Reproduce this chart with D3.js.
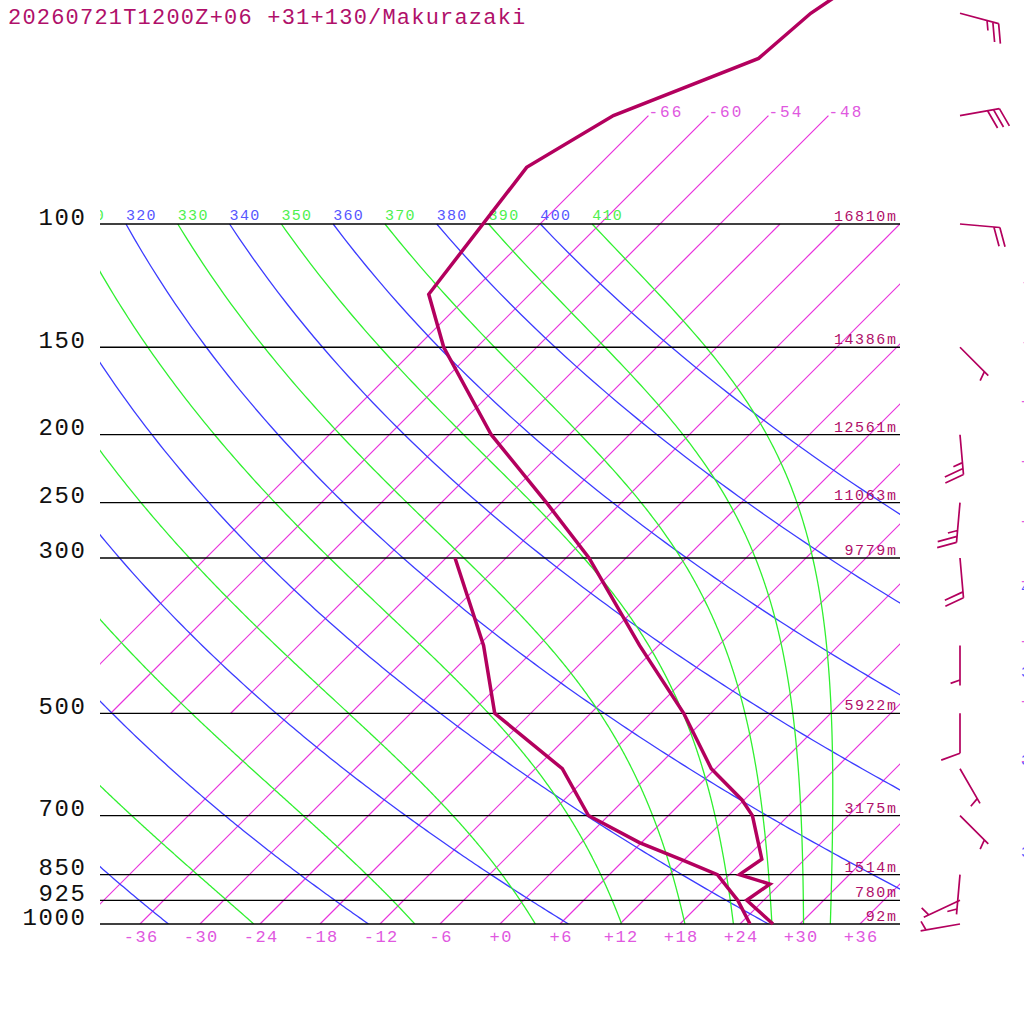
<!DOCTYPE html>
<html>
<head>
<meta charset="utf-8">
<script src="https://cdn.jsdelivr.net/npm/d3@7"></script>
<style>
  html, body { margin: 0; padding: 0; background: #ffffff; }
  svg { display: block; }
  text { font-family: "Liberation Mono", "DejaVu Sans Mono", monospace; }
</style>
</head>
<body>
<svg id="chart"></svg>
<script>
// Colours
const ISOBAR_COLOR = "#000000";
const ISOTHERM_COLOR = "#e832dc";
const ISOTHERM_LABEL = "#e058e0";
const DRY_COLOR = "#3c3cff";
const DRY_LABEL = "#5656ff";
const MOIST_COLOR = "#30f030";
const MOIST_LABEL = "#4ef04e";
const PROFILE_COLOR = "#b3005e";
const TEXT_COLOR = "#b0106a";

const width = 1024;
const height = 1024;

const title = "20260721T1200Z+06 +31+130/Makurazaki";

const isobarLevels = [1000, 925, 850, 700, 500, 300, 250, 200, 150, 100];
const heightLabels = ["92m", "780m", "1514m", "3175m", "5922m", "9779m", "11063m", "12561m", "14386m", "16810m"];

const tempTicks = [-36, -30, -24, -18, -12, -6, 0, 6, 12, 18, 24, 30, 36];
const lowIsotherms = [-42, -36, -30, -24, -18, -12, -6, 0, 6, 12, 18, 24, 30, 36];
const highIsotherms = [-66, -60, -54, -48];
const edgeIsotherms = [-12, -6, 0, 6, 12, 18, 24, 30, 36];

const dryThetas = [240, 260, 280, 300, 320, 340, 360, 380, 400];
const moistThetas = [250, 270, 290, 310, 330, 350, 370, 390, 410];

const tempP = [1000, 925, 877, 850, 808, 700, 665, 600, 500, 400, 300, 250, 200, 150, 126, 83, 70, 58, 50, 40];
const tempT = [27.3, 22.3, 23.0, 19.0, 19.7, 14.4, 11.8, 5.6, -2.7, -13.9, -27.7, -37.5, -49.8, -63.3, -70.1, -73.0, -69.5, -60.7, -60.0, -56.7];

const dewP = [1000, 925, 850, 810, 765, 700, 600, 500, 400, 300];
const dewT = [25.0, 21.4, 16.8, 11.8, 5.8, -2.0, -9.3, -21.6, -29.5, -41.1];

const windP = [50, 70, 100, 150, 200, 250, 300, 400, 500, 600, 700, 850, 925, 1000];
const windDir = [105, 80, 95, 135, 175, 185, 175, 180, 180, 150, 135, 185, 245, 260];
const windSpd = [25, 30, 20, 5, 25, 25, 20, 5, 10, 5, 5, 5, 5, 5];

// Thermodynamics
const KAPPA = 0.2857;
const RD = 287.04, CP = 1005.7, LV = 2.501e6, EPS = 0.622;

function satVap(T) { // hPa, T in K
    return 6.112 * Math.exp(17.67 * (T - 273.15) / (T - 29.65));
}
function dTdp(p, T) {
    const es = satVap(T);
    const rs = EPS * es / (p - es);
    return (1 / p) * (RD * T + LV * rs) / (CP + (LV * LV * rs * EPS) / (RD * T * T));
}

// Scales
const y = d3.scaleLog().domain([1000, 100]).range([924, 224]);
const xT = d3.scaleLinear().domain([-40, 40]).range([100, 900]);
const sx = (T, p) => xT(T) + (y(1000) - y(p));   // skewed x, T in C

const svg = d3.select("#chart")
    .attr("width", width)
    .attr("height", height)
    .attr("viewBox", `0 0 ${width} ${height}`);

svg.append("defs").append("clipPath").attr("id", "plot")
    .append("rect").attr("x", 100).attr("y", 0).attr("width", 800).attr("height", 924);

const grid = svg.append("g").attr("clip-path", "url(#plot)");
const lineTP = d3.line().x(d => sx(d[1], d[0])).y(d => y(d[0]));

// pressures for sampling curves
const samp = [];
for (let p = 1000; p >= 100; p -= 5) samp.push(p);

// Isotherms
lowIsotherms.forEach(t => {
    grid.append("path").attr("d", lineTP([[1000, t], [100, t]]))
        .style("stroke", ISOTHERM_COLOR).style("stroke-width", "1.2px").style("fill", "none");
});
highIsotherms.forEach(t => {
    grid.append("path").attr("d", lineTP([[500, t], [70, t]]))
        .style("stroke", ISOTHERM_COLOR).style("stroke-width", "1.2px").style("fill", "none");
    svg.append("text").attr("x", sx(t, 70)).attr("y", y(70) + 1)
        .attr("font-size", 16).attr("letter-spacing", 2)
        .attr("fill", ISOTHERM_LABEL).text("-" + Math.abs(t));
});

// Dry adiabats
dryThetas.forEach(th => {
    const pts = samp.map(p => [p, th * Math.pow(p / 1000, KAPPA) - 273.15]);
    grid.append("path").attr("d", lineTP(pts))
        .style("stroke", DRY_COLOR).style("stroke-width", "1.3px").style("fill", "none");
    const lx = sx(pts[pts.length - 1][1], 100);
    if (lx > 60) {
        grid.append("text").attr("x", lx).attr("y", 219.5)
            .attr("font-size", 15).attr("letter-spacing", 1.3)
            .attr("fill", DRY_LABEL).text(th);
    }
});

// Moist (pseudo) adiabats, integrated down from 100 hPa
moistThetas.forEach(th => {
    let p = 100, T = th * Math.pow(p / 1000, KAPPA);
    const pts = [[p, T - 273.15]];
    const dp = 2;
    while (p < 1000) {
        const k1 = dTdp(p, T);
        const k2 = dTdp(p + dp / 2, T + k1 * dp / 2);
        const k3 = dTdp(p + dp / 2, T + k2 * dp / 2);
        const k4 = dTdp(p + dp, T + k3 * dp);
        T += dp * (k1 + 2 * k2 + 2 * k3 + k4) / 6;
        p += dp;
        pts.push([p, T - 273.15]);
    }
    grid.append("path").attr("d", lineTP(pts))
        .style("stroke", MOIST_COLOR).style("stroke-width", "1.3px").style("fill", "none");
    const lx = sx(pts[0][1], 100);
    if (lx > 60) {
        grid.append("text").attr("x", lx).attr("y", 219.5)
            .attr("font-size", 15).attr("letter-spacing", 1.3)
            .attr("fill", MOIST_LABEL).text(th);
    }
});

// Isobars
isobarLevels.forEach((p, i) => {
    svg.append("line").attr("x1", 100).attr("x2", 900)
        .attr("y1", y(p)).attr("y2", y(p))
        .style("stroke", ISOBAR_COLOR).style("stroke-width", "1.3px");
    svg.append("text").attr("x", 897.5).attr("y", y(p) - 3)
        .attr("text-anchor", "end").attr("font-size", 15).attr("letter-spacing", 1.6)
        .attr("fill", TEXT_COLOR).text(heightLabels[i]);
});

// Pressure axis labels
const yAxis = svg.append("g")
    .attr("transform", "translate(86.5,0)")
    .call(d3.axisLeft(y).tickValues(isobarLevels).tickFormat(d3.format("d")).tickSize(0).tickPadding(0));
yAxis.select(".domain").remove();
yAxis.selectAll("text")
    .attr("dy", 0).attr("font-family", "Liberation Mono, monospace")
    .attr("font-size", 24).attr("letter-spacing", 1.6).attr("fill", "#111");

// Temperature axis labels at 1000 hPa
const fmtT = t => (t < 0 ? "-" : "+") + Math.abs(t);
const xAxis = svg.append("g")
    .attr("transform", "translate(0.7,942)")
    .call(d3.axisBottom(xT).tickValues(tempTicks).tickFormat(fmtT).tickSize(0).tickPadding(0));
xAxis.select(".domain").remove();
xAxis.selectAll("text")
    .attr("dy", 0).attr("font-family", "Liberation Mono, monospace")
    .attr("font-size", 17).attr("letter-spacing", 1.4).attr("fill", ISOTHERM_LABEL);

// Labels that fall at the right edge of the page
edgeIsotherms.forEach(t => {
    const yy = y(1000) - (1021 - xT(t));
    svg.append("text").attr("x", 1021).attr("y", yy + 4)
        .attr("font-size", 16).attr("letter-spacing", 2)
        .attr("fill", ISOTHERM_LABEL).text(fmtT(t));
});
dryThetas.forEach(th => {
    const f = p => sx(th * Math.pow(p / 1000, KAPPA) - 273.15, p) - 1021;
    if (f(1000) < 0 || f(100) > 0) return;
    let lo = 100, hi = 1000;
    for (let k = 0; k < 40; k++) {
        const mid = (lo + hi) / 2;
        if (f(mid) > 0) hi = mid; else lo = mid;
    }
    svg.append("text").attr("x", 1021).attr("y", y(lo) + 4)
        .attr("font-size", 15).attr("letter-spacing", 1.3)
        .attr("fill", DRY_LABEL).text(th);
});

// Temperature and dew point profiles
const tempPts = tempP.map((p, i) => [p, tempT[i]]);
const dewPts = dewP.map((p, i) => [p, dewT[i]]);
[tempPts, dewPts].forEach(pts => {
    svg.append("path").attr("d", lineTP(pts))
        .style("stroke", PROFILE_COLOR).style("stroke-width", "3.5px")
        .style("stroke-linejoin", "miter").style("fill", "none");
});

// Wind barbs
const STAFF = 40, FEATHER = 20, SPACING = 6, BARB_X = 960;
function barbPath(x0, y0, dir, spd) {
    const rad = dir * Math.PI / 180;
    const ux = Math.sin(rad), uy = -Math.cos(rad);
    const tx = x0 + STAFF * ux, ty = y0 + STAFF * uy;
    const fa = Math.atan2(uy, ux) + 70 * Math.PI / 180;
    const fx = Math.cos(fa), fy = Math.sin(fa);
    let d = `M${x0},${y0}L${tx},${ty}`;
    let rest = Math.round(spd / 5) * 5;
    const nFull = Math.floor(rest / 10);
    rest -= nFull * 10;
    let pos = 0;
    for (let k = 0; k < nFull; k++) {
        const bx = tx - pos * ux, by = ty - pos * uy;
        d += `M${bx},${by}l${fx * FEATHER},${fy * FEATHER}`;
        pos += SPACING;
    }
    if (rest >= 5) {
        if (nFull === 0) pos = 5.5;
        const bx = tx - pos * ux, by = ty - pos * uy;
        d += `M${bx},${by}l${fx * FEATHER / 2},${fy * FEATHER / 2}`;
    }
    return d;
}
windP.forEach((p, i) => {
    svg.append("path").attr("d", barbPath(BARB_X, y(p), windDir[i], windSpd[i]))
        .style("stroke", PROFILE_COLOR).style("stroke-width", "1.7px").style("fill", "none");
});

// Title
svg.append("text").attr("x", 8).attr("y", 24)
    .attr("font-size", 22).attr("letter-spacing", 1.2)
    .attr("fill", TEXT_COLOR).text(title);
</script>
</body>
</html>
